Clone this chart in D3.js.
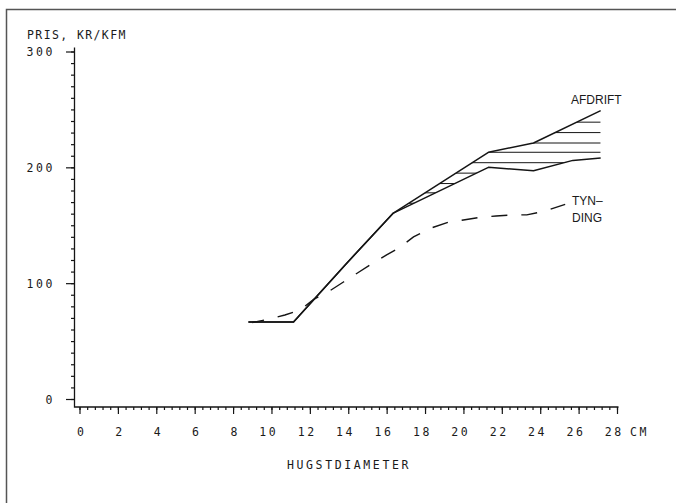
<!DOCTYPE html>
<html>
<head>
<meta charset="utf-8">
<script src="https://cdn.jsdelivr.net/npm/d3@7"></script>
<style>
  html, body { margin: 0; padding: 0; background: #fff; }
  svg { display: block; }
  .plot-text { font-family: "DejaVu Sans Mono", monospace; font-size: 11.5px; fill: #1a1a1a; letter-spacing: 2.6px; }
  .note { font-family: "Liberation Sans", Arial, sans-serif; font-size: 12px; fill: #1a1a1a; }
</style>
</head>
<body>
<script>
// Price per cubic metre against felling diameter
const xTicks = [0, 2, 4, 6, 8, 10, 12, 14, 16, 18, 20, 22, 24, 26, 28];
const yTicks = [0, 100, 200, 300];

// [diameter cm, price kr/kfm]
const afdriftHigh = [[8.8, 66.5], [11.15, 66.5], [13.85, 116], [16.35, 160.5], [21.3, 213], [23.65, 221], [27.15, 249]];
const afdriftLow  = [[8.8, 66.5], [11.15, 66.5], [13.85, 116], [16.35, 160.5], [21.3, 200], [23.65, 197], [25.7, 206], [27.15, 208]];
const tynding = [[9.0, 66], [9.9, 69], [10.7, 72.5], [11.5, 77], [12.2, 86], [13.0, 93], [13.75, 101], [14.5, 109],
                 [15.25, 117], [16.0, 124.5], [16.7, 131], [17.4, 140], [18.3, 147.5], [19.2, 152.5], [20.0, 154.5],
                 [20.9, 157], [21.7, 158], [22.6, 159], [23.3, 159], [24.2, 162], [25.3, 168]];
// horizontal hatch levels between the two felling curves
const hatchLevels = [169, 178, 186, 195, 204, 213, 221, 230, 239];

const W = 676, H = 503;
const svg = d3.select("body").append("svg").attr("width", W).attr("height", H);

// page frame
svg.append("path").attr("d", `M6.5,${H} V9.5 H${W}`)
  .attr("fill", "none").attr("stroke", "#555").attr("stroke-width", 1.5);

const x = d3.scaleLinear().domain([0, 28]).range([79.5, 617]);
const y = d3.scaleLinear().domain([0, 300]).range([399, 51.5]);
const axisX = 74.5, axisY = 407;
const ink = "#151515";

// axis lines
svg.append("path").attr("d", `M${axisX},${y(300) - 4} V${axisY} H${x(28) + 1.5}`)
  .attr("fill", "none").attr("stroke", ink).attr("stroke-width", 1.3);

// y axis ticks
const gy = svg.append("g").attr("transform", `translate(${axisX},0)`);
gy.call(d3.axisLeft(y).tickValues(d3.range(0, 301, 10)).tickSize(3.5).tickFormat("").tickSizeOuter(0));
const gy2 = svg.append("g").attr("transform", `translate(${axisX},0)`);
gy2.call(d3.axisLeft(y).tickValues(yTicks).tickSize(8.5).tickPadding(13.5 - 2.6).tickSizeOuter(0));
[gy, gy2].forEach(g => {
  g.select(".domain").remove();
  g.selectAll(".tick line").attr("stroke", ink).attr("stroke-width", 1.2);
});
gy2.selectAll(".tick text").attr("class", "plot-text").attr("font-family", null).attr("font-size", null)
  .attr("dy", "0.36em").attr("fill", null);

// x axis ticks
const gx = svg.append("g").attr("transform", `translate(0,${axisY})`);
gx.call(d3.axisBottom(x).tickValues(d3.range(0, 28.01, 0.4)).tickSize(3).tickFormat("").tickSizeOuter(0));
const gx2 = svg.append("g").attr("transform", `translate(0,${axisY})`);
gx2.call(d3.axisBottom(x).tickValues(xTicks).tickSize(7).tickSizeOuter(0));
[gx, gx2].forEach(g => {
  g.select(".domain").remove();
  g.selectAll(".tick line").attr("stroke", ink).attr("stroke-width", 1.2);
});
gx2.selectAll(".tick text").attr("class", "plot-text").attr("font-family", null).attr("font-size", null)
  .attr("fill", null).attr("text-anchor", "end").attr("x", 3.8 + 2.6).attr("y", 29).attr("dy", null);

// axis titles
svg.append("text").attr("class", "plot-text").attr("x", 630).attr("y", 436).text("CM");
svg.append("text").attr("class", "plot-text").attr("x", 27).attr("y", 39)
  .attr("textLength", 101).attr("lengthAdjust", "spacing").text("PRIS, KR/KFM");
svg.append("text").attr("class", "plot-text").attr("x", 287).attr("y", 469)
  .attr("textLength", 124).attr("lengthAdjust", "spacing").text("HUGSTDIAMETER");

const line = d3.line().x(d => x(d[0])).y(d => y(d[1]));

// hatched band between the upper and lower felling curves
const bandStart = afdriftHigh.findIndex(d => d[0] >= 16.35);
const band = afdriftHigh.slice(bandStart).concat(afdriftLow.slice(bandStart).reverse());
svg.append("clipPath").attr("id", "band").append("path").attr("d", line(band) + "Z");
svg.append("g").attr("clip-path", "url(#band)")
  .selectAll("line").data(hatchLevels).join("line")
  .attr("x1", x(16)).attr("x2", x(27.15))
  .attr("y1", d => y(d)).attr("y2", d => y(d))
  .attr("stroke", ink).attr("stroke-width", 1);

// curves
[afdriftHigh, afdriftLow].forEach(s => {
  svg.append("path").attr("d", line(s)).attr("fill", "none")
    .attr("stroke", ink).attr("stroke-width", 1.5).attr("stroke-linejoin", "round");
});
svg.append("path").attr("d", line(tynding)).attr("fill", "none")
  .attr("stroke", ink).attr("stroke-width", 1.4)
  .attr("stroke-dasharray", "16,14").attr("stroke-dashoffset", 4);

// curve labels
svg.append("text").attr("class", "note").attr("x", 571).attr("y", 104).text("AFDRIFT");
svg.append("text").attr("class", "note").attr("x", 572).attr("y", 205).text("TYN–");
svg.append("text").attr("class", "note").attr("x", 572).attr("y", 222).text("DING");
</script>
</body>
</html>
